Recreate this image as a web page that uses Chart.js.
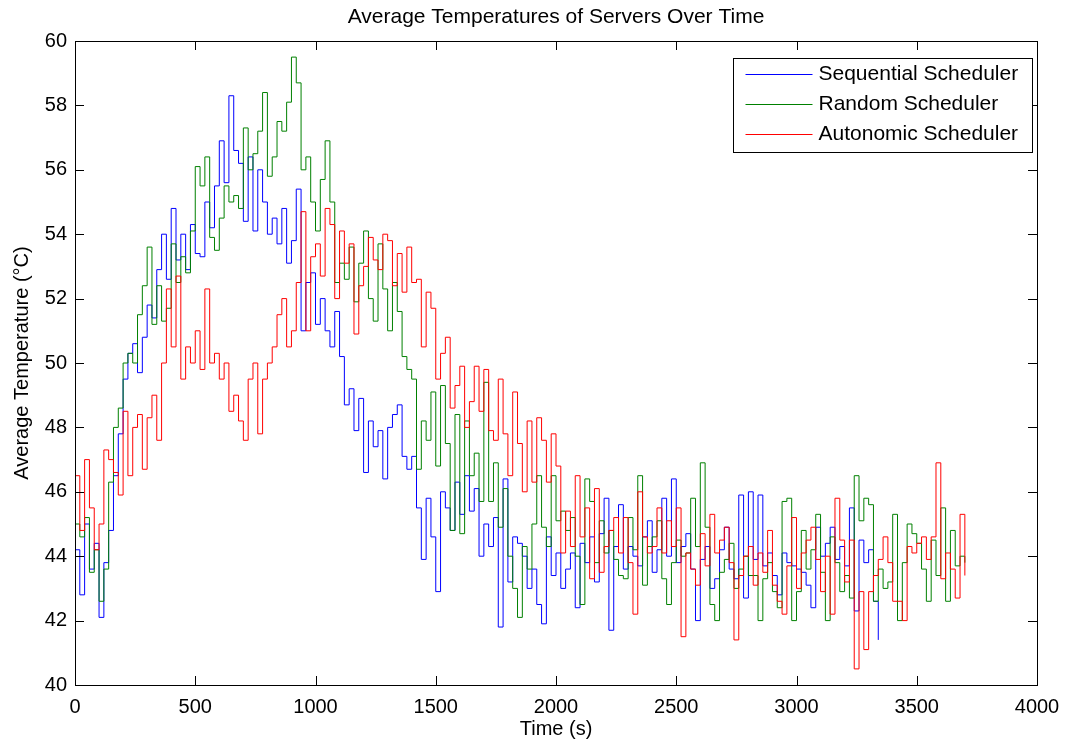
<!DOCTYPE html>
<html lang="en">
<head>
<meta charset="UTF-8"/>
<title>Average Temperatures of Servers Over Time</title>
<style>
    html, body { margin: 0; padding: 0; background: #fff; overflow: hidden; }
    #wrap { width: 1070px; height: 746px; position: relative; }
</style>
</head>
<body>
<div id="wrap"><canvas id="tempChart"></canvas></div>
<script src="https://cdn.jsdelivr.net/npm/chart.js"></script>
<script>
// logging interval of the temperature samples (s)
const sampleStep = 20;

const xTickValues = [0, 500, 1000, 1500, 2000, 2500, 3000, 3500, 4000];
const yTickValues = [40, 42, 44, 46, 48, 50, 52, 54, 56, 58, 60];

const seriesNames = ['Sequential Scheduler', 'Random Scheduler', 'Autonomic Scheduler'];
const seriesColors = ['#0000ff', '#008000', '#ff0000'];

const sequential = [
    44.2, 42.8, 45.0, 43.6, 44.4, 42.1, 43.8, 44.8, 46.5, 47.8,
    49.5, 50.3, 50.6, 49.7, 50.8, 51.8, 51.4, 52.9, 54.0, 52.6,
    54.8, 53.2, 54.0, 52.9, 54.3, 53.4, 53.3, 55.0, 54.2, 55.5,
    56.9, 55.6, 58.3, 56.6, 56.2, 54.4, 56.4, 54.1, 56.0, 55.0,
    54.0, 54.5, 53.7, 54.8, 53.1, 53.8, 55.4, 51.0, 52.5, 52.8,
    51.2, 52.0, 51.0, 50.5, 51.6, 50.2, 48.7, 49.2, 47.9, 48.9,
    46.6, 48.2, 47.4, 47.9, 46.4, 48.0, 48.4, 48.7, 47.1, 46.7,
    47.1, 45.5, 43.9, 45.8, 44.6, 42.9, 46.0, 45.5, 44.8, 46.3,
    45.3, 46.5, 45.4, 46.1, 44.0, 45.0, 44.3, 45.2, 41.8, 46.4,
    43.2, 44.6, 44.4, 44.0, 43.0, 43.6, 42.5, 41.9, 44.6, 43.4,
    44.1, 43.0, 43.6, 44.1, 42.4, 44.4, 43.8, 44.6, 43.2, 44.7,
    45.8, 41.7, 44.3, 45.6, 43.6, 44.3, 44.0, 43.7, 44.6, 45.1,
    43.5, 44.2, 45.8, 44.0, 46.4, 43.8, 44.3, 44.7, 43.6, 42.0,
    43.9, 44.3, 43.0, 43.3, 44.2, 44.9, 43.6, 43.3, 45.9, 42.7,
    46.0, 43.9, 45.9, 43.7, 44.1, 43.4, 42.8, 44.1, 43.8, 43.7,
    43.6, 43.5, 43.1, 42.4, 44.9, 44.0, 44.4, 44.9, 43.9, 44.3,
    43.7, 45.5, 42.3, 44.5, 43.8, 44.2, 42.6, 41.4
];

const random = [
    45.0, 44.6, 45.2, 43.5, 44.2, 42.6, 43.6, 46.3, 48.0, 48.6,
    50.0, 50.3, 50.0, 51.5, 52.4, 53.6, 51.2, 52.4, 51.3, 51.7,
    53.7, 52.5, 53.3, 52.8, 54.1, 56.1, 55.5, 56.4, 53.9, 53.5,
    54.5, 55.5, 55.0, 55.2, 54.8, 57.3, 56.0, 56.5, 57.2, 58.4,
    55.8, 56.4, 57.5, 57.2, 58.1, 59.5, 58.7, 56.0, 56.4, 55.0,
    54.1, 55.7, 56.9, 55.0, 52.5, 53.1, 52.6, 53.6, 51.9, 53.1,
    54.1, 52.0, 51.3, 53.7, 52.3, 51.0, 52.5, 51.6, 50.2, 49.8,
    49.5, 46.7, 48.2, 47.6, 49.1, 46.8, 49.3, 47.5, 44.8, 48.4,
    44.7, 48.2, 46.5, 47.2, 45.7, 49.4, 45.7, 46.9, 44.9, 46.1,
    44.0, 43.0, 42.1, 44.3, 43.6, 45.0, 46.5, 44.9, 44.3, 46.5,
    45.1, 45.4, 44.8, 45.2, 44.0, 42.5, 46.4, 45.7, 43.8, 45.1,
    44.1, 44.8, 43.9, 43.4, 43.3, 45.2, 44.2, 46.5, 43.1, 44.3,
    44.6, 45.1, 43.3, 42.5, 43.8, 44.5, 44.0, 44.1, 45.8, 44.3,
    46.9, 44.9, 42.5, 42.0, 43.5, 43.9, 44.4, 43.0, 43.6, 44.0,
    43.4, 43.4, 42.0, 43.3, 43.8, 42.9, 42.4, 45.7, 45.8, 42.0,
    42.9, 44.8, 43.6, 44.2, 45.3, 43.5, 42.0, 44.6, 43.8, 42.9,
    43.4, 42.7, 46.5, 45.1, 45.8, 45.6, 42.6, 43.6, 43.0, 43.2,
    45.3, 42.0, 43.8, 45.0, 44.7, 44.4, 43.6, 42.6, 44.5, 43.4,
    45.5, 42.6, 44.8, 43.7, 44.0, 43.8
];

const autonomic = [
    46.5, 44.8, 47.0, 45.5, 44.2, 45.0, 47.3, 47.0, 46.6, 45.9,
    48.5, 46.5, 48.0, 48.4, 46.7, 48.3, 49.0, 47.6, 50.0, 52.3,
    50.5, 52.7, 49.5, 50.5, 50.0, 51.0, 49.8, 52.3, 50.0, 50.3,
    49.5, 50.0, 48.5, 49.0, 48.2, 47.6, 49.5, 50.0, 47.8, 49.5,
    50.0, 50.5, 51.5, 52.0, 50.5, 51.0, 52.5, 54.7, 51.0, 53.3,
    53.7, 52.7, 54.8, 54.3, 52.0, 54.1, 53.1, 53.7, 50.9, 52.4,
    53.0, 53.9, 53.2, 52.9, 54.0, 53.8, 52.4, 53.4, 52.2, 53.6,
    52.5, 52.6, 50.5, 52.2, 51.7, 49.5, 50.3, 50.8, 48.6, 49.3,
    49.9, 48.0, 48.8, 49.9, 48.5, 49.8, 47.9, 47.6, 49.5, 47.8,
    46.5, 49.1, 47.5, 46.0, 48.2, 46.3, 48.3, 47.6, 46.3, 47.8,
    46.8, 44.1, 45.4, 44.3, 46.5, 44.6, 45.5, 43.3, 46.1, 43.5,
    44.3, 44.8, 45.2, 44.1, 45.2, 43.8, 42.2, 46.0, 44.6, 44.1,
    44.3, 45.5, 44.1, 45.1, 44.3, 45.5, 41.5, 44.1, 43.6, 43.1,
    44.7, 43.7, 45.3, 44.1, 44.5, 44.9, 43.8, 41.4, 43.4, 44.0,
    44.3, 43.1, 44.1, 43.5, 44.8, 43.1, 42.6, 42.2, 43.7, 45.2,
    43.0, 44.1, 44.5, 44.9, 43.9, 42.9, 44.0, 42.2, 45.8, 44.5,
    43.2, 44.5, 40.5, 42.9, 41.1, 42.9, 43.4, 43.9, 44.6, 43.8,
    42.6, 42.6, 42.0, 44.3, 44.1, 44.4, 44.6, 43.9, 44.6, 46.9,
    43.3, 44.1, 43.6, 42.7, 45.3, 43.4
];

const textFont = "'Liberation Sans', Arial, sans-serif";

function toPoints(values) {
    return values.map((v, i) => ({ x: i * sampleStep, y: v }));
}

// MATLAB-like frame: box, inward ticks on all four sides, title and legend
const matlabFrame = {
    id: 'matlabFrame',
    afterDraw(chart) {
        const ctx = chart.ctx;
        const area = chart.chartArea;
        const xs = chart.scales.x;
        const ys = chart.scales.y;
        const tickLen = 9;

        ctx.save();
        ctx.strokeStyle = '#000';
        ctx.lineWidth = 1;
        ctx.beginPath();
        xTickValues.forEach(v => {
            const px = Math.round(xs.getPixelForValue(v)) + 0.5;
            ctx.moveTo(px, area.bottom);
            ctx.lineTo(px, area.bottom - tickLen);
            ctx.moveTo(px, area.top);
            ctx.lineTo(px, area.top + tickLen);
        });
        yTickValues.forEach(v => {
            const py = Math.round(ys.getPixelForValue(v)) + 0.5;
            ctx.moveTo(area.left, py);
            ctx.lineTo(area.left + tickLen, py);
            ctx.moveTo(area.right, py);
            ctx.lineTo(area.right - tickLen, py);
        });
        ctx.stroke();
        ctx.strokeRect(Math.round(area.left) + 0.5, Math.round(area.top) + 0.5,
            Math.round(area.right - area.left), Math.round(area.bottom - area.top));

        // title
        ctx.fillStyle = '#000';
        ctx.font = '21px ' + textFont;
        ctx.textAlign = 'center';
        ctx.textBaseline = 'middle';
        ctx.fillText('Average Temperatures of Servers Over Time', (area.left + area.right) / 2, 17);

        // legend box
        const boxW = 299, boxH = 94;
        const bx = area.right - 5 - boxW + 0.5;
        const by = area.top + 17 + 0.5;
        ctx.fillStyle = '#fff';
        ctx.fillRect(bx, by, boxW, boxH);
        ctx.strokeStyle = '#000';
        ctx.strokeRect(bx, by, boxW, boxH);
        ctx.textAlign = 'left';
        seriesNames.forEach((name, i) => {
            const rowY = Math.round(by + 15 + i * 30) + 0.5;
            ctx.strokeStyle = seriesColors[i];
            ctx.beginPath();
            ctx.moveTo(bx + 12, rowY);
            ctx.lineTo(bx + 79, rowY);
            ctx.stroke();
            ctx.fillStyle = '#000';
            ctx.fillText(name, bx + 85, rowY);
        });
        ctx.restore();
    }
};

const datasets = [sequential, random, autonomic].map((values, i) => ({
    label: seriesNames[i],
    data: toPoints(values),
    borderColor: seriesColors[i],
    borderWidth: 1,
    pointRadius: 0,
    stepped: true,
    fill: false,
    order: 3 - i   // red drawn on top, as in the original
}));

new Chart(document.getElementById('tempChart'), {
    type: 'line',
    data: { datasets: datasets },
    options: {
        responsive: true,
        maintainAspectRatio: false,
        animation: false,
        layout: { padding: { top: 41, right: 33, bottom: 0, left: 0 } },
        plugins: {
            legend: { display: false },
            tooltip: { enabled: false },
            title: { display: false }
        },
        scales: {
            x: {
                type: 'linear',
                min: 0,
                max: 4000,
                grid: { display: false, drawTicks: false, tickLength: 0 },
                border: { display: false },
                afterBuildTicks: s => { s.ticks = xTickValues.map(v => ({ value: v })); },
                afterFit: s => { s.height = 61; },
                ticks: {
                    padding: 10,
                    color: '#000',
                    font: { family: textFont, size: 20 },
                    maxRotation: 0,
                    autoSkip: false,
                    callback: v => String(v)
                },
                title: {
                    display: true,
                    text: 'Time (s)',
                    color: '#000',
                    font: { family: textFont, size: 20 },
                    padding: { top: 0, bottom: 5 }
                }
            },
            y: {
                min: 40,
                max: 60,
                grid: { display: false, drawTicks: false, tickLength: 0 },
                border: { display: false },
                afterBuildTicks: s => { s.ticks = yTickValues.map(v => ({ value: v })); },
                afterFit: s => { s.width = 75; },
                ticks: {
                    padding: 8,
                    color: '#000',
                    font: { family: textFont, size: 20 },
                    autoSkip: false,
                    callback: v => String(v)
                },
                title: {
                    display: true,
                    text: 'Average Temperature (°C)',
                    color: '#000',
                    font: { family: textFont, size: 20 },
                    padding: { top: 10, bottom: 0 }
                }
            }
        }
    },
    plugins: [matlabFrame]
});
</script>
</body>
</html>
